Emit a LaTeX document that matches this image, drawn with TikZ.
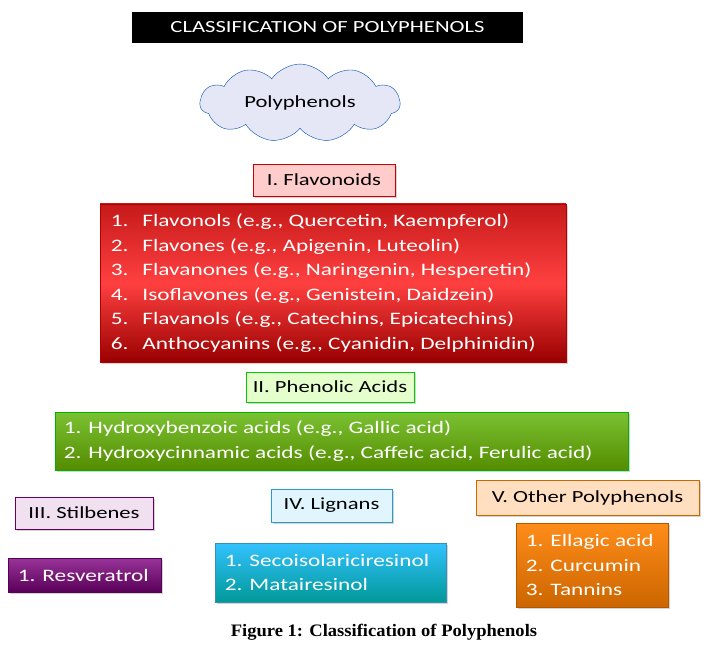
\documentclass[tikz,border=0pt]{standalone}
\usepackage{fontspec}
\setmainfont{Carlito}[FakeStretch=1.33]
\newfontfamily\capfont{Liberation Serif}[FakeStretch=1.06]
\usetikzlibrary{shapes.symbols,shadows}
\begin{document}
\begin{tikzpicture}[x=1pt,y=-1pt,
  lbl/.style={draw=#1!80!black,line width=0.8pt,drop shadow={opacity=0.35},font=\fontsize{17}{20}\selectfont,minimum height=32pt,inner xsep=4pt},
  big/.style={draw=#1!70!black,line width=0.8pt,drop shadow={opacity=0.35}},
  bt/.style={text=white,font=\fontsize{17.5}{24.5}\selectfont,align=left,anchor=west,inner sep=0pt}]
\useasboundingbox (0,0) rectangle (709,655);
\node[fill=black,text=white,minimum width=391pt,minimum height=31pt,font=\fontsize{17}{18}\selectfont] (t) at (327.5,27.5) {CLASSIFICATION OF POLYPHENOLS};
\node[cloud,cloud puffs=11,cloud puff arc=110,aspect=3,draw=blue!55!cyan!70!black,fill=cyan!30!blue!10,minimum width=200pt,minimum height=62pt,font=\fontsize{17}{20}\selectfont] (c) at (300,103) {Polyphenols};
\node[lbl=red,fill=red!20,minimum width=142pt] (f) at (324,180) {I. Flavonoids};
\node[big=red,top color=red!75!black!90,bottom color=red!60!black,middle color=red!75,minimum width=466pt,minimum height=158pt] (fl) at (333,283) {};
\node[bt] (flt) at ([xshift=11pt]fl.west) {1.\hspace{14pt}Flavonols (e.g., Quercetin, Kaempferol)\\2.\hspace{14pt}Flavones (e.g., Apigenin, Luteolin)\\3.\hspace{14pt}Flavanones (e.g., Naringenin, Hesperetin)\\4.\hspace{14pt}Isoflavones (e.g., Genistein, Daidzein)\\5.\hspace{14pt}Flavanols (e.g., Catechins, Epicatechins)\\6.\hspace{14pt}Anthocyanins (e.g., Cyanidin, Delphinidin)};
\node[lbl=green,fill=green!50!yellow!20,minimum width=168pt,minimum height=30pt] (p) at (330,387) {II. Phenolic Acids};
\node[big=green,top color=green!50!yellow!70!black!80,bottom color=green!40!yellow!55!black,minimum width=573pt,minimum height=58pt] (pa) at (341.5,441) {};
\node[bt] (pat) at ([xshift=9pt]pa.west) {1. Hydroxybenzoic acids (e.g., Gallic acid)\\2. Hydroxycinnamic acids (e.g., Caffeic acid, Ferulic acid)};
\node[lbl=violet,fill=violet!12,minimum width=138pt] (s) at (84,513) {III. Stilbenes};
\node[lbl=cyan,fill=cyan!12,minimum width=121pt,minimum height=33pt] (l) at (331.5,505.5) {IV. Lignans};
\node[lbl=orange,fill=orange!25,minimum width=223pt,minimum height=35pt] (o) at (587.5,497.5) {V. Other Polyphenols};
\node[big=violet,top color=violet!80,bottom color=violet!70!black,minimum width=153pt,minimum height=34pt] (r) at (84.5,575) {};
\node[bt] (rt) at ([xshift=10pt]r.west) {1. Resveratrol};
\node[big=cyan,top color=cyan!70!blue!80,bottom color=cyan!60!black,minimum width=231pt,minimum height=59pt] (li) at (330.5,572.5) {};
\node[bt] (lit) at ([xshift=10pt]li.west) {1. Secoisolariciresinol\\2. Matairesinol};
\node[big=orange,top color=orange!90,bottom color=orange!80!black,minimum width=152pt,minimum height=84pt] (ot) at (592,565) {};
\node[bt] (ott) at ([xshift=10pt]ot.west) {1. Ellagic acid\\2. Curcumin\\3. Tannins};
\node[font=\capfont\bfseries\fontsize{17.5}{18}\selectfont] (cap) at (384,632) {Figure 1: Classification of Polyphenols};
\end{tikzpicture}
\end{document}
